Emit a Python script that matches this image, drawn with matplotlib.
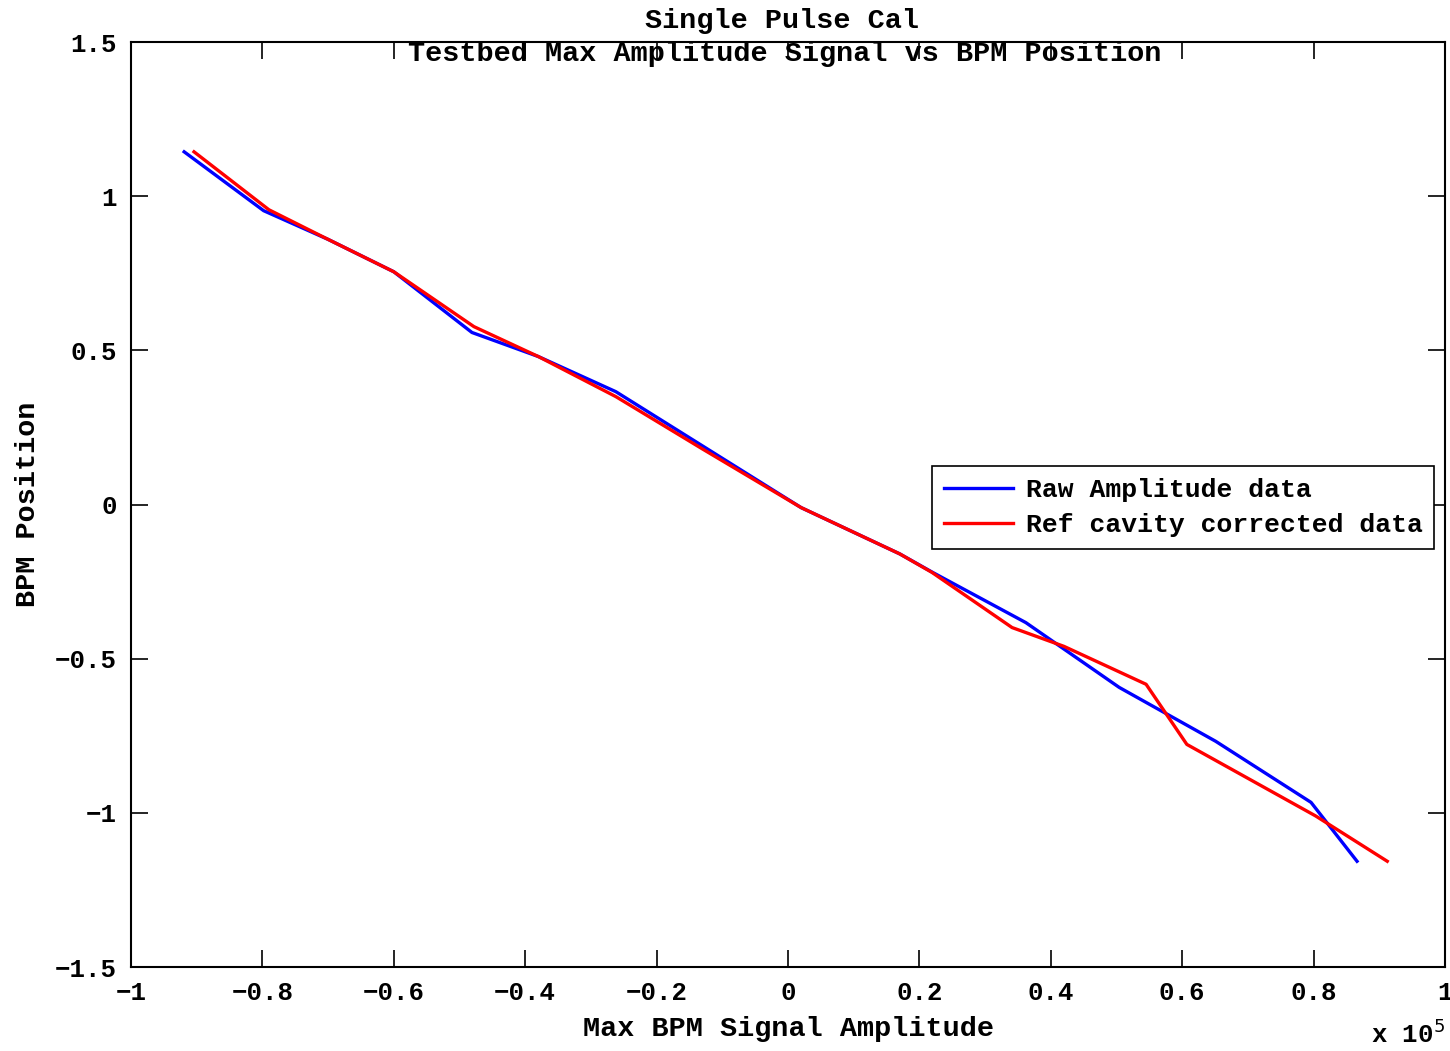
import matplotlib
matplotlib.use("Agg")
import matplotlib.pyplot as plt

# x values in units of 1e5
raw_x = [-0.919, -0.798, -0.70, -0.600, -0.481, -0.38, -0.262, -0.13, 0.02, 0.17, 0.22, 0.362, 0.504, 0.651, 0.796, 0.866]
raw_y = [1.144, 0.953, 0.86, 0.755, 0.558, 0.48, 0.366, 0.19, -0.01, -0.16, -0.22, -0.383, -0.593, -0.768, -0.966, -1.157]

ref_x = [-0.904, -0.790, -0.70, -0.600, -0.478, -0.38, -0.262, -0.13, 0.02, 0.17, 0.219, 0.341, 0.420, 0.545, 0.607, 0.803, 0.912]
ref_y = [1.144, 0.956, 0.86, 0.755, 0.577, 0.48, 0.350, 0.18, -0.01, -0.16, -0.220, -0.399, -0.46, -0.583, -0.778, -1.01, -1.157]

xticks = [-1, -0.8, -0.6, -0.4, -0.2, 0, 0.2, 0.4, 0.6, 0.8, 1]
yticks = [-1.5, -1, -0.5, 0, 0.5, 1, 1.5]

fam = ["Liberation Mono", "DejaVu Sans Mono"]
tickfont = {"family": fam, "weight": "bold", "size": 18.5}
labfont = {"family": fam, "weight": "bold", "size": 20.5}

def lab(v):
    return ("%g" % v).replace("-", "\u2212")

fig = plt.figure(figsize=(14.5, 10.51), dpi=100)
ax = fig.add_axes([0.0903, 0.0799, 0.9063, 0.8801])

ax.plot(raw_x, raw_y, color="#0000ff", lw=2.4, label="Raw Amplitude data")
ax.plot(ref_x, ref_y, color="#ff0000", lw=2.4, label="Ref cavity corrected data")

ax.set_xlim(-1, 1)
ax.set_ylim(-1.5, 1.5)
ax.set_xticks(xticks)
ax.set_yticks(yticks)
ax.set_xticklabels([lab(v) for v in xticks], fontdict=tickfont)
ax.set_yticklabels([lab(v) for v in yticks], fontdict=tickfont)
ax.tick_params(direction="in", length=12, width=1.2, top=True, right=True, pad=10)
for s in ax.spines.values():
    s.set_linewidth(1.5)

ax.set_xlabel("Max BPM Signal Amplitude", fontdict=labfont, labelpad=8)
ax.set_ylabel("BPM Position", fontdict=labfont, labelpad=10)
fig.text(0.9966, 0.003, r"x 10$^{5}$", ha="right", va="bottom", fontdict=tickfont)

fig.text(0.539, 0.980, "Single Pulse Cal", ha="center", va="center", fontdict=labfont)
fig.text(0.541, 0.949, "Testbed Max Amplitude Signal vs BPM Position", ha="center", va="center", fontdict=labfont)

leg = ax.legend(loc="upper left", bbox_to_anchor=(0.6096, 0.5416),
                prop={"family": fam, "weight": "bold", "size": 19},
                frameon=True, fancybox=False, edgecolor="black", framealpha=1,
                handlelength=2.6, handletextpad=0.5, borderpad=0.45, labelspacing=0.42, borderaxespad=0)
leg.get_frame().set_linewidth(1.2)

fig.savefig("out.png", dpi=100)
